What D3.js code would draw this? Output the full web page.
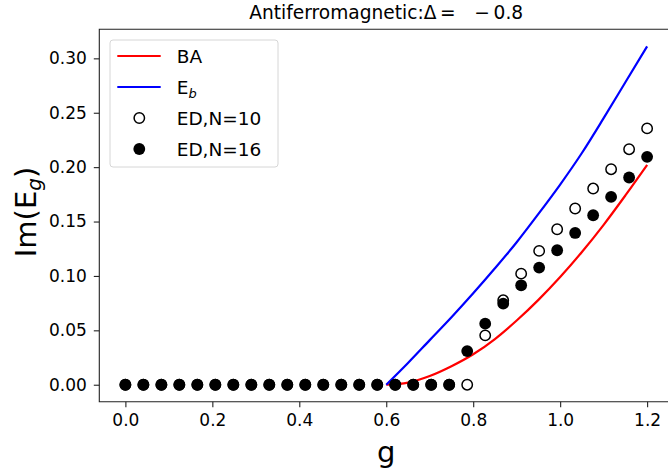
<!DOCTYPE html>
<html>
<head>
<meta charset="utf-8">
<script src="https://cdn.jsdelivr.net/npm/d3@7"></script>
<style>
  body { margin: 0; background: #fff; }
  svg { display: block; font-family: 'DejaVu Sans', sans-serif; }
</style>
</head>
<body>
<svg width="668" height="470"></svg>
<script>
// g grid used for the ED points
const gPoints = [0, 0.0414, 0.0828, 0.1241, 0.1655, 0.2069, 0.2483, 0.2897, 0.3310, 0.3724,
  0.4138, 0.4552, 0.4966, 0.5379, 0.5793, 0.6207, 0.6621, 0.7034, 0.7448, 0.7862,
  0.8276, 0.8690, 0.9103, 0.9517, 0.9931, 1.0345, 1.0759, 1.1172, 1.1586, 1.2]
const ed10 = [0, 0, 0, 0, 0, 0, 0, 0, 0, 0, 0, 0, 0, 0, 0, 0, 0, 0, 0, 0,
  0.0454, 0.0776, 0.1021, 0.1230, 0.1429, 0.1620, 0.1803, 0.1981, 0.2165, 0.2356]
const ed16 = [0, 0, 0, 0, 0, 0, 0, 0, 0, 0, 0, 0, 0, 0, 0, 0, 0, 0, 0,
  0.0309, 0.0561, 0.0745, 0.0914, 0.1077, 0.1236, 0.1395, 0.1558, 0.1726, 0.1905, 0.2095]

// curves
const gCurve = [0.60, 0.65, 0.70, 0.75, 0.80, 0.85, 0.90, 0.95, 1.00, 1.05, 1.10, 1.15, 1.20]
const ba = [0, 0.002, 0.008, 0.017, 0.028, 0.042, 0.059, 0.078, 0.099, 0.122, 0.147, 0.174, 0.202]
const eb = [0, 0.020, 0.041, 0.062, 0.084, 0.107, 0.131, 0.157, 0.184, 0.213, 0.245, 0.278, 0.311]

const xTicks = [0, 0.2, 0.4, 0.6, 0.8, 1.0, 1.2]
const yTicks = [0, 0.05, 0.10, 0.15, 0.20, 0.25, 0.30]

const mLeft = 99.3, mRight = 673.2, mTop = 29.3, mBottom = 401.7
const x = d3.scaleLinear().domain([-0.06, 1.26]).range([mLeft, mRight])
const y = d3.scaleLinear().domain([-0.0156, 0.3267]).range([mBottom, mTop])

const svg = d3.select('svg')

svg.append('clipPath').attr('id', 'plot')
  .append('rect')
  .attr('x', mLeft).attr('y', mTop)
  .attr('width', mRight - mLeft).attr('height', mBottom - mTop)

const plot = svg.append('g').attr('clip-path', 'url(#plot)')

const line = d3.line()
  .x(d => x(d[0]))
  .y(d => y(d[1]))
  .curve(d3.curveMonotoneX)

plot.append('path')
  .attr('d', line(gCurve.map((g, i) => [g, ba[i]])))
  .attr('fill', 'none')
  .attr('stroke', '#ff0000')
  .attr('stroke-width', 2.2)

plot.append('path')
  .attr('d', line(gCurve.map((g, i) => [g, eb[i]])))
  .attr('fill', 'none')
  .attr('stroke', '#0000ff')
  .attr('stroke-width', 2.2)

plot.append('g')
  .selectAll('circle')
  .data(gPoints.map((g, i) => [g, ed10[i]]))
  .join('circle')
  .attr('cx', d => x(d[0]))
  .attr('cy', d => y(d[1]))
  .attr('r', 5.2)
  .attr('fill', 'none')
  .attr('stroke', '#000')
  .attr('stroke-width', 1.5)

plot.append('g')
  .selectAll('circle')
  .data(gPoints.map((g, i) => [g, ed16[i]]))
  .join('circle')
  .attr('cx', d => x(d[0]))
  .attr('cy', d => y(d[1]))
  .attr('r', 5.9)
  .attr('fill', '#000')

// axes
svg.append('g')
  .attr('transform', 'translate(0,' + mBottom + ')')
  .call(d3.axisBottom(x).tickValues(xTicks).tickFormat(d3.format('.1f'))
    .tickSize(5.5).tickSizeOuter(0).tickPadding(7))

svg.append('g')
  .attr('transform', 'translate(' + mLeft + ',0)')
  .call(d3.axisLeft(y).tickValues(yTicks).tickFormat(d3.format('.2f'))
    .tickSize(5.5).tickSizeOuter(0).tickPadding(7))

svg.selectAll('.tick text')
  .attr('font-family', 'DejaVu Sans')
  .attr('font-size', 17)
  .attr('fill', '#000')
svg.selectAll('.tick line').attr('stroke', '#222').attr('stroke-width', 1.1)
svg.selectAll('.domain').remove()

// spines
svg.append('path')
  .attr('d', 'M' + mLeft + ',' + mTop + 'V' + mBottom + 'H' + mRight + 'V' + mTop + 'Z')
  .attr('fill', 'none')
  .attr('stroke', '#222')
  .attr('stroke-width', 1.1)

// titles and labels
svg.append('text')
  .attr('x', (mLeft + mRight) / 2)
  .attr('y', 19)
  .attr('text-anchor', 'middle')
  .attr('font-size', 18.6)
  .text('Antiferromagnetic:Δ\u2009=\u2003\u2212\u20090.8')

svg.append('text')
  .attr('x', (mLeft + mRight) / 2)
  .attr('y', 462)
  .attr('text-anchor', 'middle')
  .attr('font-size', 29)
  .text('g')

const ylab = svg.append('text')
  .attr('transform', 'translate(36,212) rotate(-90)')
  .attr('text-anchor', 'middle')
  .attr('font-size', 29)
ylab.append('tspan').text('Im(E')
ylab.append('tspan').attr('font-size', 20).attr('font-style', 'italic').attr('dy', 5).text('g')
ylab.append('tspan').attr('dy', -5).text(')')

// legend
const legend = svg.append('g')
legend.append('rect')
  .attr('x', 110).attr('y', 40)
  .attr('width', 168).attr('height', 127)
  .attr('rx', 3)
  .attr('fill', '#fff').attr('fill-opacity', 0.8)
  .attr('stroke', '#d6d6d6').attr('stroke-width', 1)

const items = [
  { label: 'BA', type: 'line', color: '#ff0000' },
  { label: 'E', sub: 'b', type: 'line', color: '#0000ff' },
  { label: 'ED,N=10', type: 'open' },
  { label: 'ED,N=16', type: 'filled' },
]

const row = legend.selectAll('g.item')
  .data(items)
  .join('g')
  .attr('class', 'item')
  .attr('transform', (d, i) => 'translate(0,' + (56 + i * 31) + ')')

row.filter(d => d.type === 'line')
  .append('line')
  .attr('x1', 117.3).attr('x2', 160.7)
  .attr('stroke', d => d.color)
  .attr('stroke-width', 2.2)

row.filter(d => d.type === 'open')
  .append('circle')
  .attr('cx', 139.3).attr('r', 5.2)
  .attr('fill', 'none').attr('stroke', '#000').attr('stroke-width', 1.5)

row.filter(d => d.type === 'filled')
  .append('circle')
  .attr('cx', 139.3).attr('r', 5.9)
  .attr('fill', '#000')

const label = row.append('text')
  .attr('x', 176.7)
  .attr('y', 7)
  .attr('font-size', 18.5)
label.append('tspan').text(d => d.label)
label.filter(d => d.sub)
  .append('tspan')
  .attr('font-size', 13)
  .attr('font-style', 'italic')
  .attr('dy', 4)
  .text(d => d.sub)
</script>
</body>
</html>
